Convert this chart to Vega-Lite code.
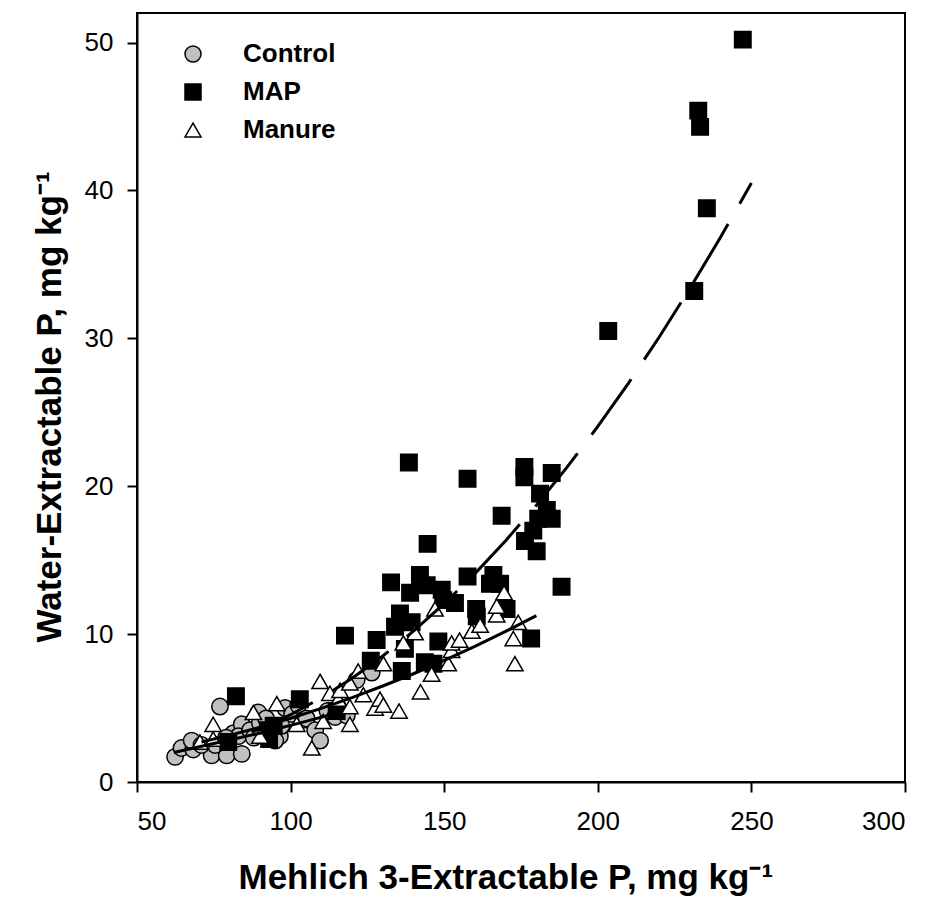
{
  "$schema": "https://vega.github.io/schema/vega-lite/v6.json",
  "width": 768,
  "height": 769,
  "autosize": {"type": "none"},
  "padding": {"left": 137, "top": 13, "right": 28, "bottom": 119},
  "background": "white",
  "config": {
    "font": "Liberation Sans",
    "view": {"stroke": "black", "strokeWidth": 2},
    "axis": {
      "grid": false,
      "domainColor": "black",
      "domainWidth": 2,
      "tickColor": "black",
      "tickWidth": 2,
      "tickSize": 10,
      "labelColor": "black",
      "labelFont": "Liberation Sans",
      "labelFontSize": 26,
      "titleFont": "Liberation Sans",
      "titleFontSize": 35,
      "titleFontWeight": "bold",
      "titleColor": "black"
    }
  },
  "datasets": {
    "pts": [
      {"g": "Control", "x": 62.4, "y": 1.7},
      {"g": "Control", "x": 64.5, "y": 2.3},
      {"g": "Control", "x": 68.3, "y": 2.2},
      {"g": "Control", "x": 67.8, "y": 2.8},
      {"g": "Control", "x": 74.3, "y": 1.8},
      {"g": "Control", "x": 79.2, "y": 1.8},
      {"g": "Control", "x": 84.1, "y": 1.9},
      {"g": "Control", "x": 77.0, "y": 5.1},
      {"g": "Control", "x": 81.4, "y": 3.3},
      {"g": "Control", "x": 84.1, "y": 3.9},
      {"g": "Control", "x": 83.0, "y": 3.1},
      {"g": "Control", "x": 86.8, "y": 3.5},
      {"g": "Control", "x": 89.5, "y": 4.7},
      {"g": "Control", "x": 90.0, "y": 4.0},
      {"g": "Control", "x": 93.3, "y": 3.1},
      {"g": "Control", "x": 96.5, "y": 3.1},
      {"g": "Control", "x": 95.0, "y": 2.8},
      {"g": "Control", "x": 98.2, "y": 5.0},
      {"g": "Control", "x": 100.5, "y": 4.6},
      {"g": "Control", "x": 102.5, "y": 5.2},
      {"g": "Control", "x": 104.1, "y": 4.2},
      {"g": "Control", "x": 105.2, "y": 4.3},
      {"g": "Control", "x": 108.0, "y": 3.5},
      {"g": "Control", "x": 109.6, "y": 2.8},
      {"g": "Control", "x": 112.0, "y": 4.8},
      {"g": "Control", "x": 114.5, "y": 4.4},
      {"g": "Control", "x": 118.3, "y": 4.5},
      {"g": "Control", "x": 121.5, "y": 6.9},
      {"g": "Control", "x": 126.4, "y": 7.4},
      {"g": "Control", "x": 92.0, "y": 4.3},
      {"g": "Control", "x": 88.0, "y": 3.0},
      {"g": "Control", "x": 97.0, "y": 3.8},
      {"g": "Control", "x": 75.5, "y": 2.5},
      {"g": "Control", "x": 71.0, "y": 2.5},
      {"g": "Control", "x": 79.0, "y": 3.0},
      {"g": "MAP", "x": 82.2, "y": 5.8},
      {"g": "MAP", "x": 79.7, "y": 2.7},
      {"g": "MAP", "x": 92.6, "y": 3.5},
      {"g": "MAP", "x": 93.0, "y": 2.9},
      {"g": "MAP", "x": 94.5, "y": 3.8},
      {"g": "MAP", "x": 103.0, "y": 5.6},
      {"g": "MAP", "x": 115.0, "y": 4.8},
      {"g": "MAP", "x": 126.1, "y": 8.2},
      {"g": "MAP", "x": 128.0, "y": 9.6},
      {"g": "MAP", "x": 117.7, "y": 9.9},
      {"g": "MAP", "x": 135.6, "y": 11.4},
      {"g": "MAP", "x": 134.0, "y": 10.5},
      {"g": "MAP", "x": 139.4, "y": 10.8},
      {"g": "MAP", "x": 137.2, "y": 9.0},
      {"g": "MAP", "x": 136.2, "y": 7.5},
      {"g": "MAP", "x": 143.7, "y": 8.1},
      {"g": "MAP", "x": 146.5, "y": 8.0},
      {"g": "MAP", "x": 148.1, "y": 9.5},
      {"g": "MAP", "x": 132.7, "y": 13.5},
      {"g": "MAP", "x": 142.1, "y": 14.0},
      {"g": "MAP", "x": 144.3, "y": 13.3},
      {"g": "MAP", "x": 138.9, "y": 12.8},
      {"g": "MAP", "x": 149.2, "y": 13.0},
      {"g": "MAP", "x": 149.7, "y": 12.3},
      {"g": "MAP", "x": 153.5, "y": 12.1},
      {"g": "MAP", "x": 157.6, "y": 13.9},
      {"g": "MAP", "x": 166.0, "y": 14.0},
      {"g": "MAP", "x": 164.9, "y": 13.4},
      {"g": "MAP", "x": 168.2, "y": 13.4},
      {"g": "MAP", "x": 170.3, "y": 11.7},
      {"g": "MAP", "x": 160.4, "y": 11.7},
      {"g": "MAP", "x": 160.6, "y": 11.2},
      {"g": "MAP", "x": 178.3, "y": 9.7},
      {"g": "MAP", "x": 144.6, "y": 16.1},
      {"g": "MAP", "x": 138.5, "y": 21.6},
      {"g": "MAP", "x": 157.6, "y": 20.5},
      {"g": "MAP", "x": 176.1, "y": 21.3},
      {"g": "MAP", "x": 176.1, "y": 20.6},
      {"g": "MAP", "x": 185.0, "y": 20.9},
      {"g": "MAP", "x": 181.2, "y": 19.5},
      {"g": "MAP", "x": 168.7, "y": 18.0},
      {"g": "MAP", "x": 183.4, "y": 18.4},
      {"g": "MAP", "x": 180.6, "y": 17.8},
      {"g": "MAP", "x": 185.0, "y": 17.8},
      {"g": "MAP", "x": 179.0, "y": 17.0},
      {"g": "MAP", "x": 176.3, "y": 16.3},
      {"g": "MAP", "x": 180.1, "y": 15.6},
      {"g": "MAP", "x": 188.2, "y": 13.2},
      {"g": "MAP", "x": 203.4, "y": 30.5},
      {"g": "MAP", "x": 231.4, "y": 33.2},
      {"g": "MAP", "x": 235.5, "y": 38.8},
      {"g": "MAP", "x": 232.7, "y": 45.4},
      {"g": "MAP", "x": 233.3, "y": 44.3},
      {"g": "MAP", "x": 247.2, "y": 50.2},
      {"g": "Manure", "x": 70.5, "y": 2.7},
      {"g": "Manure", "x": 74.8, "y": 3.9},
      {"g": "Manure", "x": 74.8, "y": 2.9},
      {"g": "Manure", "x": 87.9, "y": 4.7},
      {"g": "Manure", "x": 90.0, "y": 3.1},
      {"g": "Manure", "x": 95.5, "y": 5.3},
      {"g": "Manure", "x": 102.0, "y": 3.9},
      {"g": "Manure", "x": 109.6, "y": 6.8},
      {"g": "Manure", "x": 110.6, "y": 4.1},
      {"g": "Manure", "x": 106.9, "y": 2.3},
      {"g": "Manure", "x": 112.8, "y": 6.0},
      {"g": "Manure", "x": 115.5, "y": 5.6},
      {"g": "Manure", "x": 119.3, "y": 3.9},
      {"g": "Manure", "x": 119.3, "y": 5.1},
      {"g": "Manure", "x": 116.1, "y": 6.2},
      {"g": "Manure", "x": 122.0, "y": 7.5},
      {"g": "Manure", "x": 119.3, "y": 6.7},
      {"g": "Manure", "x": 123.7, "y": 5.9},
      {"g": "Manure", "x": 127.5, "y": 5.0},
      {"g": "Manure", "x": 129.1, "y": 5.6},
      {"g": "Manure", "x": 130.2, "y": 5.2},
      {"g": "Manure", "x": 135.3, "y": 4.8},
      {"g": "Manure", "x": 130.2, "y": 8.0},
      {"g": "Manure", "x": 136.7, "y": 9.4},
      {"g": "Manure", "x": 140.5, "y": 10.1},
      {"g": "Manure", "x": 142.3, "y": 6.1},
      {"g": "Manure", "x": 145.9, "y": 7.3},
      {"g": "Manure", "x": 147.0, "y": 11.7},
      {"g": "Manure", "x": 151.3, "y": 8.0},
      {"g": "Manure", "x": 152.4, "y": 8.9},
      {"g": "Manure", "x": 152.4, "y": 9.4},
      {"g": "Manure", "x": 155.0, "y": 9.6},
      {"g": "Manure", "x": 159.0, "y": 10.2},
      {"g": "Manure", "x": 161.7, "y": 10.6},
      {"g": "Manure", "x": 167.1, "y": 11.3},
      {"g": "Manure", "x": 167.1, "y": 11.9},
      {"g": "Manure", "x": 169.5, "y": 12.8},
      {"g": "Manure", "x": 172.5, "y": 9.7},
      {"g": "Manure", "x": 173.0, "y": 8.0},
      {"g": "Manure", "x": 174.1, "y": 10.8}
    ],
    "fits": [
      {"g": "Control", "x": 62, "y": 2.0},
      {"g": "Control", "x": 75, "y": 2.6},
      {"g": "Control", "x": 90, "y": 3.3},
      {"g": "Control", "x": 105, "y": 4.1},
      {"g": "Control", "x": 112, "y": 4.5},
      {"g": "Manure", "x": 71, "y": 2.7},
      {"g": "Manure", "x": 80, "y": 3.15},
      {"g": "Manure", "x": 90, "y": 3.7},
      {"g": "Manure", "x": 100, "y": 4.31},
      {"g": "Manure", "x": 110, "y": 4.98},
      {"g": "Manure", "x": 120, "y": 5.7},
      {"g": "Manure", "x": 130, "y": 6.49},
      {"g": "Manure", "x": 140, "y": 7.32},
      {"g": "Manure", "x": 150, "y": 8.22},
      {"g": "Manure", "x": 160, "y": 9.17},
      {"g": "Manure", "x": 170, "y": 10.18},
      {"g": "Manure", "x": 180, "y": 11.25},
      {"g": "MAP", "x": 80, "y": 2.8},
      {"g": "MAP", "x": 90, "y": 3.59},
      {"g": "MAP", "x": 100, "y": 4.55},
      {"g": "MAP", "x": 110, "y": 5.69},
      {"g": "MAP", "x": 120, "y": 7.02},
      {"g": "MAP", "x": 130, "y": 8.52},
      {"g": "MAP", "x": 140, "y": 10.2},
      {"g": "MAP", "x": 150, "y": 12.06},
      {"g": "MAP", "x": 160, "y": 14.09},
      {"g": "MAP", "x": 170, "y": 16.32},
      {"g": "MAP", "x": 180, "y": 18.71},
      {"g": "MAP", "x": 190, "y": 21.29},
      {"g": "MAP", "x": 200, "y": 24.04},
      {"g": "MAP", "x": 210, "y": 26.97},
      {"g": "MAP", "x": 220, "y": 30.09},
      {"g": "MAP", "x": 230, "y": 33.38},
      {"g": "MAP", "x": 240, "y": 36.85},
      {"g": "MAP", "x": 250, "y": 40.5}
    ]
  },
  "encoding": {
    "x": {
      "field": "x",
      "type": "quantitative",
      "scale": {"domain": [50, 300], "nice": false, "zero": false},
      "axis": {
        "values": [50, 100, 150, 200, 250, 300],
        "labelPadding": 16,
        "title": "Mehlich 3-Extractable P, mg kg⁻¹",
        "titleAlign": "left",
        "titleAnchor": null,
        "titleX": 101,
        "titleY": 106,
        "titleBaseline": "alphabetic"
      }
    },
    "y": {
      "field": "y",
      "type": "quantitative",
      "scale": {"domain": [0, 52], "nice": false},
      "axis": {
        "values": [0, 10, 20, 30, 40, 50],
        "labelPadding": 14,
        "title": "Water-Extractable P, mg kg⁻¹",
        "titleAngle": -90,
        "titleAlign": "left",
        "titleAnchor": null,
        "titleX": -88,
        "titleY": 629,
        "titleBaseline": "middle"
      }
    }
  },
  "layer": [
    {
      "data": {"name": "pts"},
      "mark": {"type": "point", "filled": true, "stroke": "black", "strokeWidth": 1.5, "size": 270, "opacity": 1},
      "encoding": {
        "color": {
          "field": "g",
          "type": "nominal",
          "scale": {"domain": ["Control", "MAP", "Manure"], "range": ["#c0c0c0", "#000000", "#ffffff"]},
          "legend": {
            "title": null,
            "orient": "none",
            "legendX": 43,
            "legendY": 28,
            "labelFont": "Liberation Sans",
            "labelFontSize": 26,
            "labelFontWeight": "bold",
            "labelColor": "black",
            "labelOffset": 37,
            "rowPadding": 12,
            "symbolSize": 256,
            "symbolStrokeColor": "black",
            "symbolStrokeWidth": 1.5
          }
        },
        "shape": {
          "field": "g",
          "type": "nominal",
          "scale": {"domain": ["Control", "MAP", "Manure"], "range": ["circle", "square", "triangle-up"]}
        }
      }
    },
    {
      "data": {"name": "fits"},
      "transform": [{"filter": "datum.g !== 'MAP'"}],
      "mark": {"type": "line", "color": "black", "strokeWidth": 3},
      "encoding": {"detail": {"field": "g"}, "order": {"field": "x", "type": "quantitative"}}
    },
    {
      "data": {"name": "fits"},
      "transform": [{"filter": "datum.g === 'MAP'"}],
      "mark": {"type": "line", "color": "black", "strokeWidth": 3, "strokeDash": [68, 23.5], "strokeDashOffset": 67.5},
      "encoding": {"order": {"field": "x", "type": "quantitative"}}
    }
  ]
}
